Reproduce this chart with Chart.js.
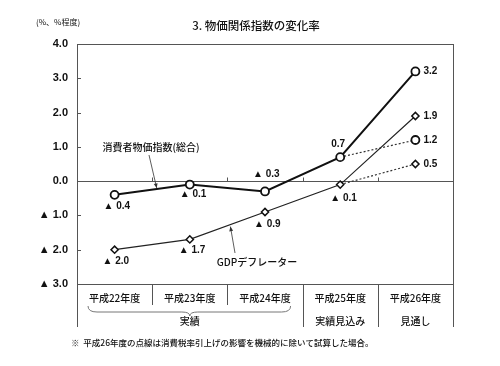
<!DOCTYPE html>
<html>
<head>
<meta charset="utf-8">
<script src="https://cdn.jsdelivr.net/npm/chart.js@4"></script>
<style>
  body { margin: 0; background: #fff; }
</style>
</head>
<body>
<div style="width:500px;height:366px">
  <canvas id="chart" width="500" height="366"></canvas>
</div>
<script>
// 年度と系列データ（%）
const years = ['平成22年度', '平成23年度', '平成24年度', '平成25年度', '平成26年度'];
const cpi = [-0.4, -0.1, -0.3, 0.7, 3.2];
const gdp = [-2.0, -1.7, -0.9, -0.1, 1.9];
const cpiNoTax = [null, null, null, 0.7, 1.2];
const gdpNoTax = [null, null, null, -0.1, 0.5];
const groups = [
  { text: '実績', from: 0, to: 2 },
  { text: '実績見込み', from: 3, to: 3 },
  { text: '見通し', from: 4, to: 4 },
];

const JP = '"Noto Sans CJK JP", sans-serif';
const NUM = '"Liberation Sans", Arial, sans-serif';

// 値ラベルの置き方 [dx, dy, align]
const cpiLabelPos = [[-11, 11, 'left'], [-10, 10, 'left'], [-12, -17, 'left'], [-2, -13, 'center'], [8, 0, 'left']];
const gdpLabelPos = [[-12, 12, 'left'], [-11, 11, 'left'], [-11, 12, 'left'], [-10, 14, 'left'], [8, 0, 'left']];

const fmt = v => (v < 0 ? '▲ ' + Math.abs(v).toFixed(1) : v.toFixed(1));

function arrow(ctx, x1, y1, x2, y2) {
  const a = Math.atan2(y2 - y1, x2 - x1);
  ctx.beginPath();
  ctx.moveTo(x1, y1);
  ctx.lineTo(x2, y2);
  ctx.stroke();
  ctx.beginPath();
  ctx.moveTo(x2, y2);
  ctx.lineTo(x2 - 5 * Math.cos(a - 0.4), y2 - 5 * Math.sin(a - 0.4));
  ctx.lineTo(x2 - 5 * Math.cos(a + 0.4), y2 - 5 * Math.sin(a + 0.4));
  ctx.closePath();
  ctx.fill();
}

const decor = {
  id: 'decor',
  beforeDatasetsDraw(chart) {
    const { ctx, chartArea: a, scales: { x, y } } = chart;
    ctx.save();
    ctx.strokeStyle = '#555';
    ctx.lineWidth = 1;
    // frame
    ctx.strokeRect(a.left + 0.5, a.top + 0.5, a.right - a.left, a.bottom - a.top);
    // zero line
    const y0 = Math.round(y.getPixelForValue(0)) + 0.5;
    ctx.beginPath();
    ctx.moveTo(a.left, y0);
    ctx.lineTo(a.right, y0);
    ctx.stroke();
    // y ticks (inside)
    for (let v = -3; v <= 4; v++) {
      const py = Math.round(y.getPixelForValue(v)) + 0.5;
      ctx.beginPath();
      ctx.moveTo(a.left, py);
      ctx.lineTo(a.left + 4, py);
      ctx.stroke();
    }
    // category boundaries: ticks on zero line and table lines
    const half = (x.getPixelForValue(1) - x.getPixelForValue(0)) / 2;
    for (let i = 0; i <= years.length; i++) {
      const px = Math.round(x.getPixelForValue(i) - half) + 0.5;
      if (i > 0 && i < years.length) {
        ctx.beginPath();
        ctx.moveTo(px, y0);
        ctx.lineTo(px, y0 - 4);
        ctx.stroke();
      }
      const inGroup = groups.some(g => i > g.from && i <= g.to);
      ctx.beginPath();
      ctx.moveTo(px, a.bottom);
      ctx.lineTo(px, inGroup ? a.bottom + 21 : a.bottom + 43);
      ctx.stroke();
    }
    // category labels
    ctx.fillStyle = '#111';
    ctx.font = '500 10px ' + JP;
    ctx.textAlign = 'center';
    ctx.textBaseline = 'middle';
    years.forEach((t, i) => ctx.fillText(t, x.getPixelForValue(i), a.bottom + 14));
    // group labels and brace
    groups.forEach(g => {
      const cx = (x.getPixelForValue(g.from) + x.getPixelForValue(g.to)) / 2;
      ctx.fillText(g.text, cx, a.bottom + 37);
      if (g.to > g.from) {
        const l = x.getPixelForValue(g.from) - half + 11;
        const r = x.getPixelForValue(g.to) + half - 12;
        const t = a.bottom + 22, b = a.bottom + 28;
        ctx.strokeStyle = '#777';
        ctx.beginPath();
        ctx.moveTo(l, t);
        ctx.quadraticCurveTo(l, b, l + 9, b);
        ctx.lineTo(cx - 8, b);
        ctx.quadraticCurveTo(cx, b, cx, b + 4);
        ctx.quadraticCurveTo(cx, b, cx + 8, b);
        ctx.lineTo(r - 9, b);
        ctx.quadraticCurveTo(r, b, r, t);
        ctx.stroke();
      }
    });
    ctx.restore();
  },
  afterDatasetsDraw(chart) {
    const { ctx, scales: { x, y } } = chart;
    ctx.save();
    ctx.fillStyle = '#111';
    ctx.strokeStyle = '#333';
    ctx.font = 'bold 10px ' + NUM;
    ctx.textBaseline = 'middle';
    const put = (v, i, p) => {
      ctx.textAlign = p[2];
      ctx.fillText(fmt(v), x.getPixelForValue(i) + p[0], y.getPixelForValue(v) + p[1]);
    };
    cpi.forEach((v, i) => put(v, i, cpiLabelPos[i]));
    gdp.forEach((v, i) => put(v, i, gdpLabelPos[i]));
    put(cpiNoTax[4], 4, [8, 0, 'left']);
    put(gdpNoTax[4], 4, [8, 0, 'left']);

    // series notes with arrows
    ctx.font = '500 10px ' + JP;
    ctx.textAlign = 'center';
    ctx.fillText('消費者物価指数(総合)', 151, 147);
    ctx.fillText('GDPデフレーター', 257, 262);
    ctx.lineWidth = 0.8;
    ctx.fillStyle = '#333';
    const lerp = (arr, i, t) => [
      x.getPixelForValue(i) + t * (x.getPixelForValue(i + 1) - x.getPixelForValue(i)),
      y.getPixelForValue(arr[i]) + t * (y.getPixelForValue(arr[i + 1]) - y.getPixelForValue(arr[i])),
    ];
    const c = lerp(cpi, 0, 0.56);
    arrow(ctx, 149, 155, c[0], c[1] - 1);
    const g = lerp(gdp, 1, 0.54);
    arrow(ctx, 235, 253, g[0], g[1] + 2);

    // title, unit, footnote
    ctx.fillStyle = '#111';
    ctx.font = '500 11.5px ' + JP;
    ctx.fillText('3. 物価関係指数の変化率', 256, 26);
    ctx.font = '8px ' + JP;
    ctx.textAlign = 'left';
    ctx.fillText('(%、%程度)', 36, 22);
    ctx.font = '500 8.5px ' + JP;
    ctx.fillText('※  平成26年度の点線は消費税率引上げの影響を機械的に除いて試算した場合。', 71, 343);
    ctx.restore();
  }
};

new Chart(document.getElementById('chart'), {
  type: 'line',
  data: {
    labels: years,
    datasets: [
      {
        label: '消費者物価指数(総合)', data: cpi,
        borderColor: '#111', borderWidth: 2,
        pointStyle: 'circle', pointRadius: 4, pointBackgroundColor: '#fff',
        pointBorderColor: '#111', pointBorderWidth: 1.8,
      },
      {
        label: 'GDPデフレーター', data: gdp,
        borderColor: '#222', borderWidth: 1.2,
        pointStyle: 'rectRot', pointRadius: 3.6, pointBackgroundColor: '#fff',
        pointBorderColor: '#111', pointBorderWidth: 1.5,
      },
      {
        label: '消費者物価指数(除く消費税)', data: cpiNoTax,
        borderColor: '#333', borderWidth: 1.2, borderDash: [2, 2],
        pointStyle: 'circle', pointRadius: [0, 0, 0, 0, 4], pointBackgroundColor: '#fff',
        pointBorderColor: '#111', pointBorderWidth: 1.8, order: 5,
      },
      {
        label: 'GDPデフレーター(除く消費税)', data: gdpNoTax,
        borderColor: '#333', borderWidth: 1.2, borderDash: [2, 2],
        pointStyle: 'rectRot', pointRadius: [0, 0, 0, 0, 3.6], pointBackgroundColor: '#fff',
        pointBorderColor: '#111', pointBorderWidth: 1.5, order: 5,
      },
    ],
  },
  options: {
    responsive: false,
    animation: false,
    layout: { padding: { top: 44, right: 47, bottom: 82, left: 0 } },
    plugins: { legend: { display: false }, tooltip: { enabled: false } },
    scales: {
      x: { display: false, offset: true },
      y: {
        min: -3, max: 4,
        grid: { display: false, drawTicks: false },
        border: { display: false },
        afterFit: s => { s.width = 77; },
        ticks: {
          stepSize: 1, padding: 9, color: '#111',
          font: { family: NUM, size: 11, weight: 'bold' },
          callback: v => fmt(v),
        },
      },
    },
  },
  plugins: [decor],
});
</script>
</body>
</html>
